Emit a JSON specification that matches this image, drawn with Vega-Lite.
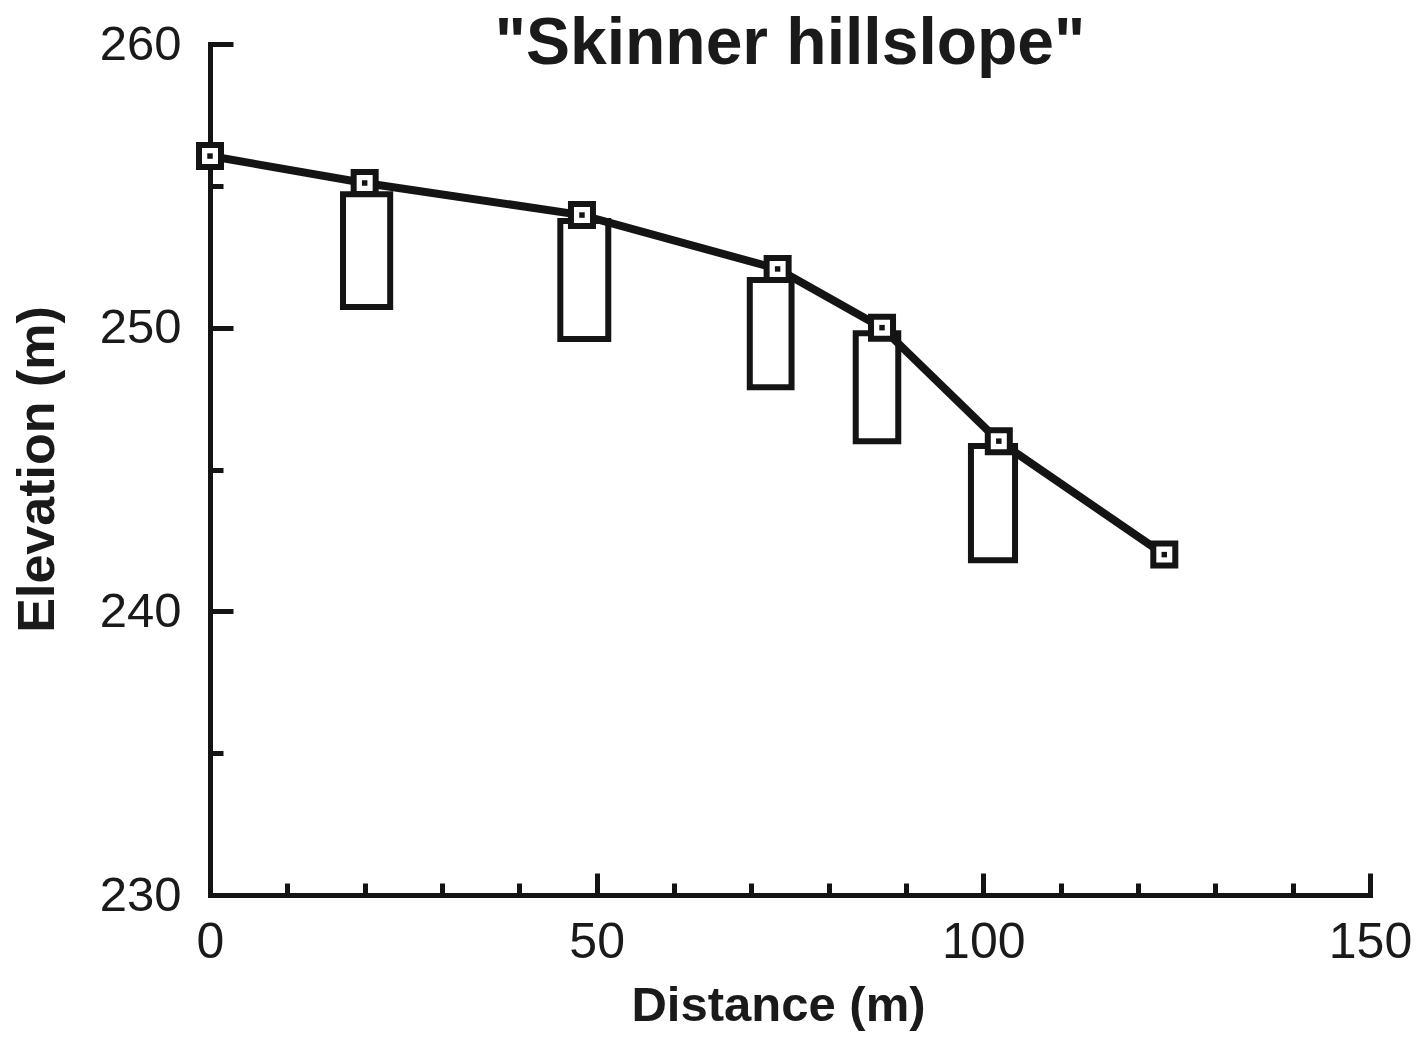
{
  "$schema": "https://vega.github.io/schema/vega-lite/v6.json",
  "width": 1160,
  "height": 851,
  "autosize": {"type": "none"},
  "padding": {"left": 210, "top": 44, "right": 46, "bottom": 142},
  "background": "white",
  "config": {
    "view": {"stroke": null},
    "font": "Liberation Sans"
  },
  "title": {
    "text": "\"Skinner hillslope\"",
    "font": "Liberation Sans",
    "fontSize": 66,
    "fontWeight": "bold",
    "color": "#1a1a1a",
    "anchor": "middle",
    "baseline": "alphabetic",
    "offset": -110
  },
  "datasets": {
    "profile": [
      {"distance": 0, "elevation": 256.05},
      {"distance": 20.0, "elevation": 255.1},
      {"distance": 48.1, "elevation": 253.97},
      {"distance": 73.4, "elevation": 252.07},
      {"distance": 86.9, "elevation": 250.0},
      {"distance": 102.0, "elevation": 246.0},
      {"distance": 123.4, "elevation": 242.0}
    ],
    "blocks": [
      {"x0": 17.2, "x1": 23.3, "top": 254.7, "bottom": 250.73},
      {"x0": 45.3, "x1": 51.5, "top": 253.76, "bottom": 249.6},
      {"x0": 69.8, "x1": 75.2, "top": 251.68, "bottom": 247.9},
      {"x0": 83.5, "x1": 89.0, "top": 249.8, "bottom": 246.0},
      {"x0": 98.4, "x1": 104.1, "top": 245.83, "bottom": 241.8}
    ]
  },
  "resolve": {"axis": {"x": "independent", "y": "independent"}},
  "layer": [
    {
      "data": {"name": "blocks"},
      "mark": {"type": "rect", "fill": "white", "stroke": "#141414", "strokeWidth": 6},
      "encoding": {
        "x": {
          "field": "x0", "type": "quantitative",
          "scale": {"domain": [0, 150], "nice": false, "zero": false},
          "axis": {
            "orient": "bottom",
            "values": [0, 50, 100, 150],
            "title": "Distance (m)",
            "titleFont": "Liberation Sans",
            "titleFontSize": 49,
            "titleFontWeight": "bold",
            "titleColor": "#1a1a1a",
            "titleX": 568,
            "titleY": 125,
            "titleBaseline": "alphabetic",
            "titleAlign": "center",
            "labelFont": "Liberation Sans",
            "labelFontSize": 50,
            "labelColor": "#1a1a1a",
            "labelPadding": 44,
            "labelFlush": false,
            "labelOverlap": false,
            "domainColor": "#141414",
            "domainWidth": 5,
            "domainCap": "square",
            "tickColor": "#141414",
            "tickWidth": 5,
            "tickSize": -22,
            "grid": false
          }
        },
        "x2": {"field": "x1"},
        "y": {
          "field": "top", "type": "quantitative",
          "scale": {"domain": [230, 260], "nice": false, "zero": false},
          "axis": {
            "orient": "left",
            "values": [230, 240, 250, 260],
            "title": "Elevation (m)",
            "titleFont": "Liberation Sans",
            "titleFontSize": 52,
            "titleFontWeight": "bold",
            "titleColor": "#1a1a1a",
            "titleAngle": -90,
            "titleX": -157,
            "titleY": 425,
            "titleBaseline": "alphabetic",
            "titleAlign": "center",
            "labelFont": "Liberation Sans",
            "labelFontSize": 49,
            "labelColor": "#1a1a1a",
            "labelPadding": 52,
            "labelFlush": false,
            "labelOverlap": false,
            "domainColor": "#141414",
            "domainWidth": 5,
            "domainCap": "square",
            "tickColor": "#141414",
            "tickWidth": 5,
            "tickSize": -23,
            "grid": false
          }
        },
        "y2": {"field": "bottom"}
      }
    },
    {
      "data": {"name": "profile"},
      "mark": {"type": "line", "stroke": "#141414", "strokeWidth": 8},
      "encoding": {
        "x": {
          "field": "distance", "type": "quantitative",
          "axis": {
            "orient": "bottom",
            "values": [10, 20, 30, 40, 60, 70, 80, 90, 110, 120, 130, 140],
            "labels": false, "domain": false, "title": null, "grid": false,
            "tickColor": "#141414", "tickWidth": 5, "tickSize": -12
          }
        },
        "y": {
          "field": "elevation", "type": "quantitative",
          "axis": {
            "orient": "left",
            "values": [235, 245, 255],
            "labels": false, "domain": false, "title": null, "grid": false,
            "tickColor": "#141414", "tickWidth": 5, "tickSize": -13
          }
        }
      }
    },
    {
      "data": {"name": "profile"},
      "mark": {"type": "square", "size": 484, "filled": false, "fill": "white", "fillOpacity": 1, "stroke": "#141414", "strokeWidth": 6, "opacity": 1},
      "encoding": {
        "x": {"field": "distance", "type": "quantitative", "axis": null},
        "y": {"field": "elevation", "type": "quantitative", "axis": null}
      }
    },
    {
      "data": {"name": "profile"},
      "mark": {"type": "square", "size": 30, "filled": true, "color": "#141414", "opacity": 1},
      "encoding": {
        "x": {"field": "distance", "type": "quantitative", "axis": null},
        "y": {"field": "elevation", "type": "quantitative", "axis": null}
      }
    }
  ]
}
